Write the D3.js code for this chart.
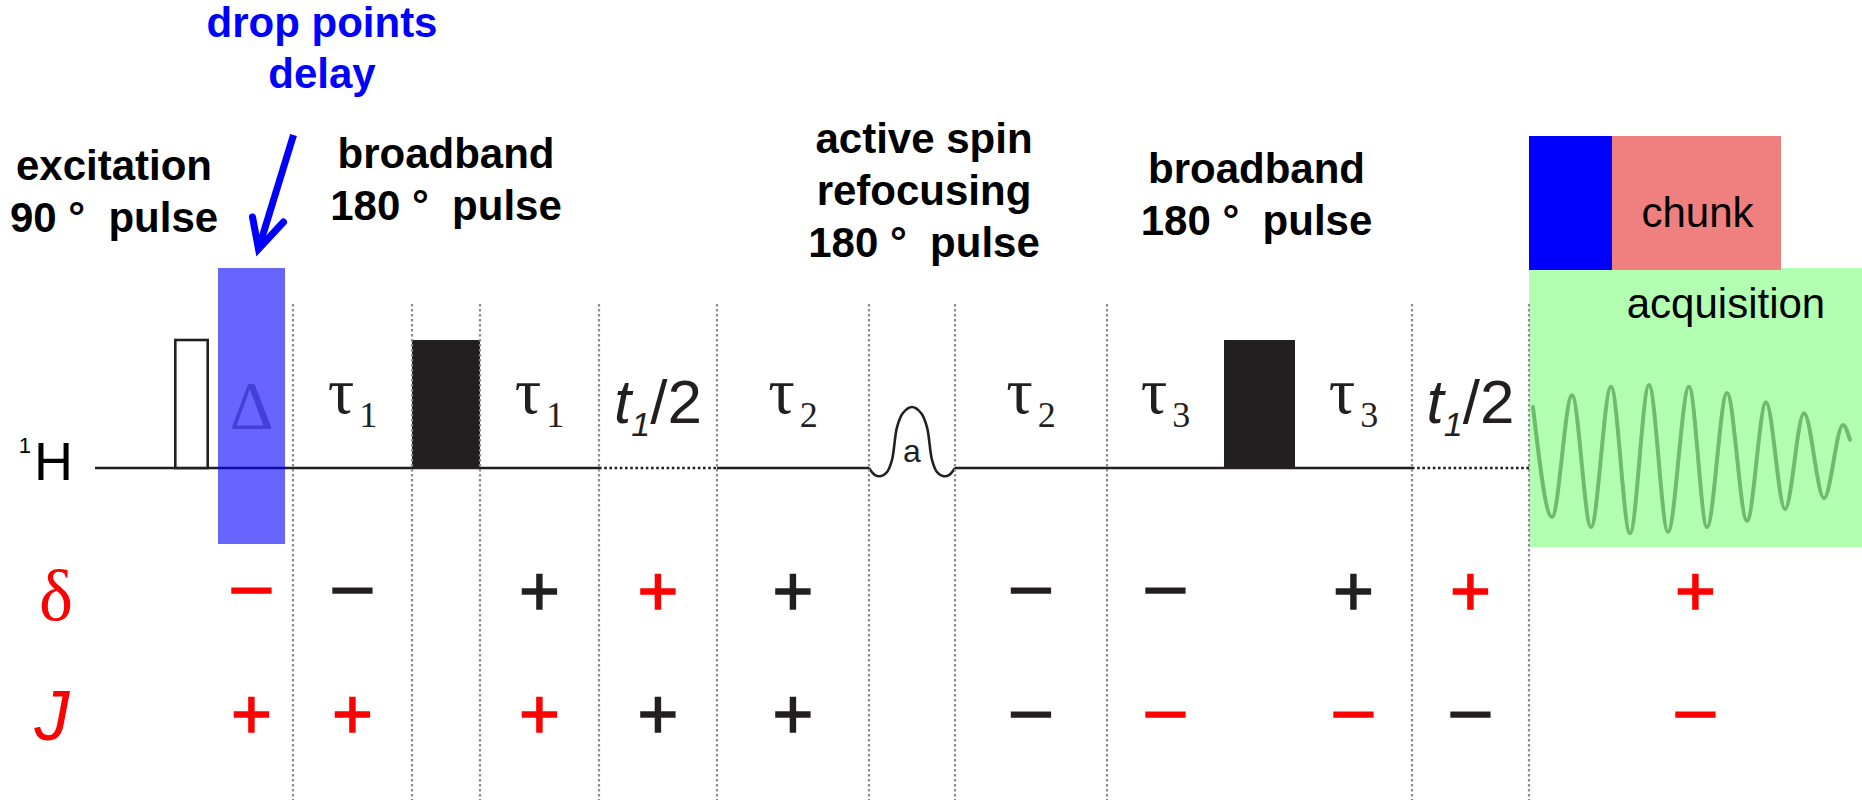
<!DOCTYPE html>
<html>
<head>
<meta charset="utf-8">
<script src="https://cdn.jsdelivr.net/npm/d3@7"></script>
<style>
  html, body { margin: 0; padding: 0; background: #fff; overflow: hidden; }
  svg { display: block; }
  text { font-family: "Liberation Sans", Arial, sans-serif; }
</style>
</head>
<body>
<svg id="chart" width="1862" height="800"></svg>
<script>
// ---- Pulse sequence timing (arbitrary time units) ----
const blockNames = ["lead", "p90", "gap1", "Delta", "gap2", "tau1a", "p180a", "tau1b", "t1a",
                    "tau2a", "shaped", "tau2b", "tau3a", "p180b", "tau3b", "t1b", "acq"];
const blockDurations = [79, 35, 9, 67, 8, 119, 68, 119, 118, 152, 86, 152, 117, 71, 117, 117, 333];

// Hard pulses: open = excitation, filled = broadband refocusing
const hardPulses = ["p90", "p180a", "p180b"];
const hardPulseFilled = [false, true, true];
const hardPulseHeights = [1, 1, 1];

// Selective (shaped) refocusing pulse envelope: fraction of pulse length, relative amplitude
const shapeT = [0, 0.07, 0.14, 0.21, 0.267, 0.326, 0.395, 0.5, 0.605, 0.674, 0.733, 0.79, 0.86, 0.93, 1];
const shapeA = [0, -0.055, -0.0625, -0.031, 0.0625, 0.32, 0.43, 0.477, 0.43, 0.32, 0.0625, -0.031, -0.0625, -0.055, 0];

// Section boundaries marked with dotted guides
const dividerBlocks = ["tau1a", "p180a", "tau1b", "t1a", "tau2a", "shaped", "tau2b", "tau3a", "t1b", "acq"];

// Delay labels
const tauBlocks = ["tau1a", "tau1b", "tau2a", "tau2b", "tau3a", "tau3b"];
const tauIndex = ["1", "1", "2", "2", "3", "3"];
const evolutionBlocks = ["t1a", "t1b"];

// Sign of chemical shift (δ) and coupling (J) evolution in each period
const signBlocks = ["Delta", "tau1a", "tau1b", "t1a", "tau2a", "tau2b", "tau3a", "tau3b", "t1b", "acq"];
const deltaSigns = ["−", "−", "+", "+", "+", "−", "−", "+", "+", "+"];
const deltaSignRed = [true, false, false, true, false, false, false, false, true, true];
const jSigns = ["+", "+", "+", "+", "+", "−", "−", "−", "−", "−"];
const jSignRed = [true, true, true, false, false, false, true, true, false, true];

// Acquired FID: extrema times (from acquisition start) and normalised amplitudes
const fidTimes = [4, 23, 43, 62, 82, 101, 120, 139, 160, 178, 198, 218, 237, 256, 275, 295, 314, 321];
const fidAmps = [0.68, -0.73, 0.83, -0.86, 0.94, -0.94, 0.96, -0.92, 0.94, -0.86, 0.86, -0.78, 0.74, -0.63, 0.60, -0.49, 0.45, 0.26];

// Acquisition split into dropped points and the chunk
const acqParts = ["drop", "chunk"];
const acqPartDurations = [83, 169];

// Annotations above the sequence
const titleLines = [
  ["excitation", "90 °  pulse"],
  ["drop points", "delay"],
  ["broadband", "180 °  pulse"],
  ["active spin", "refocusing", "180 °  pulse"],
  ["broadband", "180 °  pulse"]
];

// ---- Layout ----
const BLACK = "#231f20", RED = "#f00";
const baseY = 468;
const svg = d3.select("#chart");

const total = d3.sum(blockDurations);
const x = d3.scaleLinear().domain([0, total]).range([95, 1862]);
const pulseY = d3.scaleLinear().domain([0, 1]).range([baseY, 340]);
const fidY = d3.scaleLinear().domain([-1, 1]).range([538, 382]);

const starts = d3.cumsum([0].concat(blockDurations.slice(0, -1)));
const blk = {};
blockNames.forEach((n, i) => {
  blk[n] = { t0: starts[i], t1: starts[i] + blockDurations[i] };
  blk[n].x0 = x(blk[n].t0);
  blk[n].x1 = x(blk[n].t1);
  blk[n].cx = (blk[n].x0 + blk[n].x1) / 2;
});

const gBase = svg.append("g");
const gPulse = svg.append("g");
const gGuide = svg.append("g");
const gLabel = svg.append("g");
const gOver = svg.append("g");
const gAcq = svg.append("g");
const gText = svg.append("g");

// ---- 1H axis line ----
const solidRuns = [["lead", "tau1b"], ["tau2a", "tau2a"], ["tau2b", "tau3b"]];
solidRuns.forEach(([a, b]) => {
  gBase.append("line")
    .attr("x1", blk[a].x0).attr("x2", blk[b].x1)
    .attr("y1", baseY).attr("y2", baseY)
    .attr("stroke", BLACK).attr("stroke-width", 2.6);
});
evolutionBlocks.forEach(n => {
  gBase.append("line")
    .attr("x1", blk[n].x0).attr("x2", blk[n].x1)
    .attr("y1", baseY).attr("y2", baseY)
    .attr("stroke", BLACK).attr("stroke-width", 2.6)
    .attr("stroke-dasharray", "2.6,2.6");
});

// ---- Hard pulses ----
gPulse.selectAll("rect.hard").data(hardPulses).join("rect")
  .attr("class", "hard")
  .attr("x", (d, i) => blk[d].x0 + (hardPulseFilled[i] ? 0 : 1.3))
  .attr("width", (d, i) => blk[d].x1 - blk[d].x0 - (hardPulseFilled[i] ? 0 : 2.6))
  .attr("y", (d, i) => pulseY(hardPulseHeights[i]))
  .attr("height", (d, i) => baseY - pulseY(hardPulseHeights[i]))
  .attr("fill", (d, i) => hardPulseFilled[i] ? BLACK : "#fff")
  .attr("stroke", BLACK)
  .attr("stroke-width", (d, i) => hardPulseFilled[i] ? 0 : 2.6);

// ---- Shaped pulse ----
const sp = blk.shaped;
const shapeX = d3.scaleLinear().domain([0, 1]).range([sp.x0, sp.x1]);
gPulse.append("path")
  .datum(shapeT.map((t, i) => [t, shapeA[i]]))
  .attr("d", d3.line().x(d => shapeX(d[0])).y(d => pulseY(d[1])).curve(d3.curveCatmullRom.alpha(0.5)))
  .attr("fill", "none").attr("stroke", BLACK).attr("stroke-width", 2.6);
gPulse.append("text")
  .attr("x", sp.cx).attr("y", 462)
  .attr("text-anchor", "middle")
  .attr("font-size", 32).attr("fill", BLACK)
  .text("a");

// ---- Dotted guides ----
gGuide.selectAll("line").data(dividerBlocks).join("line")
  .attr("x1", d => blk[d].x0).attr("x2", d => blk[d].x0)
  .attr("y1", 304).attr("y2", 800)
  .attr("stroke", "#8c8c8c").attr("stroke-width", 2.2)
  .attr("stroke-dasharray", "2.6,2.4");

// ---- Delay labels ----
const serif = '"Liberation Serif", "Times New Roman", serif';
tauBlocks.forEach((n, i) => {
  const t = gLabel.append("text")
    .attr("x", blk[n].cx).attr("y", 413)
    .attr("text-anchor", "middle").attr("fill", BLACK)
    .style("font-family", serif);
  t.append("tspan").attr("font-size", 66).text("τ");
  t.append("tspan").attr("font-size", 36).attr("dx", 5).attr("dy", 14).text(tauIndex[i]);
});
evolutionBlocks.forEach(n => {
  const t = gLabel.append("text")
    .attr("x", blk[n].cx).attr("y", 423)
    .attr("text-anchor", "middle").attr("fill", BLACK);
  t.append("tspan").attr("font-size", 62).attr("font-style", "italic").text("t");
  t.append("tspan").attr("font-size", 34).attr("font-style", "italic").attr("dy", 13).text("1");
  t.append("tspan").attr("font-size", 62).attr("dy", -13).text("/2");
});
gLabel.append("text")
  .attr("x", blk.Delta.cx).attr("y", 428)
  .attr("text-anchor", "middle").attr("fill", "#a4a4a4")
  .attr("font-size", 68).style("font-family", serif)
  .text("Δ");

// Drop-points delay overlay
gOver.append("rect")
  .attr("x", blk.Delta.x0).attr("width", blk.Delta.x1 - blk.Delta.x0)
  .attr("y", 268).attr("height", 276)
  .attr("fill", "#0000ff").attr("fill-opacity", 0.6);

// ---- Acquisition ----
const acq = blk.acq;
const acqX = d3.scaleLinear().domain([0, blockDurations[blockNames.indexOf("acq")]]).range([acq.x0, acq.x1]);
gAcq.append("rect")
  .attr("x", acq.x0).attr("width", acq.x1 - acq.x0)
  .attr("y", 268).attr("height", 279)
  .attr("fill", "#00ff00").attr("fill-opacity", 0.3);
gAcq.append("path")
  .datum(fidTimes.map((t, i) => [t, fidAmps[i]]))
  .attr("d", d3.line().x(d => acqX(d[0])).y(d => fidY(d[1])).curve(d3.curveMonotoneX))
  .attr("fill", "none").attr("stroke", "#6cbc6c").attr("stroke-width", 4)
  .attr("stroke-linecap", "round");

const partStarts = d3.cumsum([0].concat(acqPartDurations.slice(0, -1)));
const partColors = { drop: "#0000ff", chunk: "#f08080" };
gAcq.selectAll("rect.part").data(acqParts).join("rect")
  .attr("class", "part")
  .attr("x", (d, i) => acqX(partStarts[i]))
  .attr("width", (d, i) => acqX(partStarts[i] + acqPartDurations[i]) - acqX(partStarts[i]))
  .attr("y", 136).attr("height", 134)
  .attr("fill", d => partColors[d]);
gAcq.append("text")
  .attr("x", (acqX(partStarts[1]) + acqX(partStarts[1] + acqPartDurations[1])) / 2 + 1)
  .attr("y", 227).attr("text-anchor", "middle")
  .attr("font-size", 42).attr("fill", "#000").text("chunk");
gAcq.append("text")
  .attr("x", 1726).attr("y", 318).attr("text-anchor", "middle")
  .attr("font-size", 42).attr("fill", "#000").text("acquisition");

// ---- Nucleus and sign rows ----
const nuc = gText.append("text").attr("x", 73).attr("y", 480)
  .attr("text-anchor", "end").attr("fill", "#000");
nuc.append("tspan").attr("font-size", 22).attr("dy", -27).text("1");
nuc.append("tspan").attr("font-size", 54).attr("dy", 27).attr("dx", 3).text("H");

gText.append("text").attr("x", 56).attr("y", 620).attr("text-anchor", "middle")
  .attr("fill", RED).attr("font-size", 72).style("font-family", serif).text("δ");
gText.append("text").attr("x", 52).attr("y", 740).attr("text-anchor", "middle")
  .attr("fill", RED).attr("font-size", 70).attr("font-style", "italic").text("J");

// glyph baseline offsets so that each sign is centred on its row
const signDy = { "+": 26.5, "−": 21 };
function signRow(signs, red, cy) {
  gText.append("g").selectAll("text").data(signs).join("text")
    .attr("x", (d, i) => blk[signBlocks[i]].cx)
    .attr("y", d => cy + signDy[d])
    .attr("text-anchor", "middle")
    .attr("font-size", 70)
    .attr("fill", (d, i) => red[i] ? RED : BLACK)
    .attr("stroke", (d, i) => red[i] ? RED : BLACK)
    .attr("stroke-width", 1.4)
    .text(d => d === "−" ? "–" : d);
}
signRow(deltaSigns, deltaSignRed, 588);
signRow(jSigns, jSignRed, 711.5);

// ---- Annotations ----
const titleX = [114, 322, blk.p180a.cx, 924, blk.p180b.cx - 3];
const titleY = [180, 37, 168, 153, 183];
const titleColor = ["#000", "#0000ff", "#000", "#000", "#000"];
titleLines.forEach((lines, k) => {
  const t = gText.append("text")
    .attr("text-anchor", "middle")
    .attr("font-size", 42).attr("font-weight", "bold")
    .attr("fill", titleColor[k])
    .style("white-space", "pre");
  lines.forEach((s, j) => {
    t.append("tspan").attr("x", titleX[k]).attr("y", titleY[k] + j * (k === 1 ? 51 : 52)).text(s);
  });
});

// Arrow from the drop-points note to the delay block
const tipX = blk.Delta.cx + 7, tipY = 249;
gText.append("path")
  .attr("d", `M${tipX + 35},135 L${tipX},${tipY}`)
  .attr("stroke", "#0000ff").attr("stroke-width", 7).attr("fill", "none");
gText.append("path")
  .attr("d", `M${tipX - 6},217 L${tipX},${tipY} L${tipX + 25},222`)
  .attr("stroke", "#0000ff").attr("stroke-width", 7).attr("fill", "none")
  .attr("stroke-linejoin", "miter").attr("stroke-linecap", "round");
</script>
</body>
</html>
